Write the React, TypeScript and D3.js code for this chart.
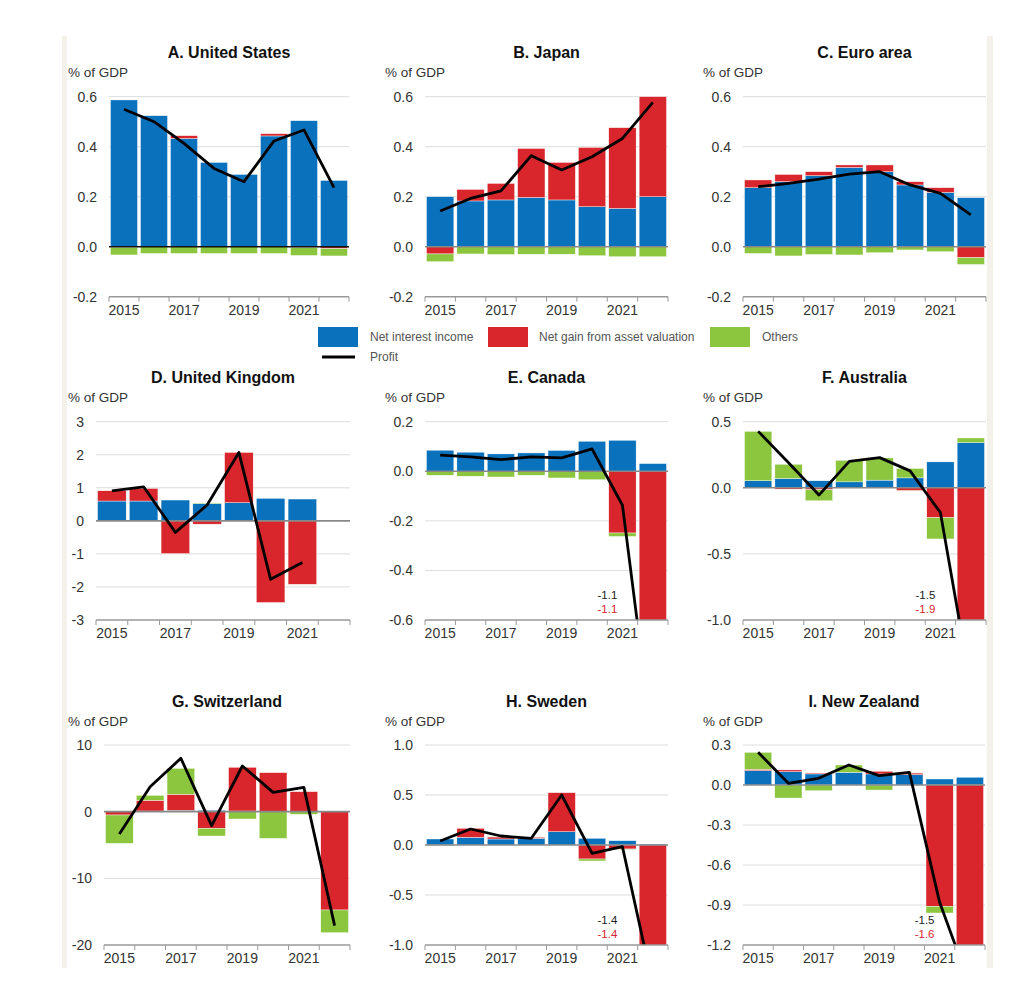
import React from 'react';
import * as d3 from 'd3';

const years = ['2015', '2016', '2017', '2018', '2019', '2020', '2021', '2022'];
const yearLabels = ['2015', '2017', '2019', '2021'];
const seriesNames = ['Net interest income', 'Net gain from asset valuation', 'Others'];
const profitName = 'Profit';
const unitLabel = '% of GDP';

// A. United States
const usNII = [0.587, 0.524, 0.433, 0.337, 0.289, 0.443, 0.504, 0.265];
const usGain = [-0.003, 0, 0.011, 0, 0, 0.009, -0.004, -0.008];
const usOthers = [-0.03, -0.027, -0.027, -0.027, -0.027, -0.027, -0.031, -0.029];
const usProfit = [0.55, 0.5, 0.413, 0.313, 0.26, 0.423, 0.467, 0.236];
const usTicks = [0.6, 0.4, 0.2, 0, -0.2];

// B. Japan
const jpNII = [0.2, 0.183, 0.187, 0.197, 0.187, 0.16, 0.153, 0.2];
const jpGain = [-0.029, 0.046, 0.066, 0.196, 0.15, 0.237, 0.323, 0.4];
const jpOthers = [-0.031, -0.029, -0.031, -0.03, -0.03, -0.036, -0.04, -0.04];
const jpProfit = [0.143, 0.193, 0.223, 0.364, 0.307, 0.36, 0.433, 0.577];
const jpTicks = [0.6, 0.4, 0.2, 0, -0.2];

// C. Euro area
const eaNII = [0.236, 0.26, 0.284, 0.317, 0.3, 0.247, 0.217, 0.196];
const eaGain = [0.031, 0.029, 0.016, 0.01, 0.027, 0.013, 0.019, -0.044];
const eaOthers = [-0.027, -0.037, -0.031, -0.033, -0.024, -0.013, -0.02, -0.027];
const eaProfit = [0.24, 0.253, 0.27, 0.29, 0.3, 0.247, 0.213, 0.127];
const eaTicks = [0.6, 0.4, 0.2, 0, -0.2];

// D. United Kingdom
const ukNII = [0.6, 0.6, 0.63, 0.52, 0.55, 0.68, 0.66, null];
const ukGain = [0.31, 0.38, -0.99, -0.1, 1.52, -2.47, -1.92, null];
const ukOthers = [0, 0, 0, 0.02, 0, 0, 0, null];
const ukProfit = [0.91, 1.03, -0.35, 0.48, 2.07, -1.77, -1.26, null];
const ukTicks = [3, 2, 1, 0, -1, -2, -3];

// E. Canada
const caNII = [0.085, 0.077, 0.07, 0.074, 0.084, 0.121, 0.125, 0.031];
const caGain = [0, 0, 0, 0, 0, 0, -0.249, -1.1];
const caOthers = [-0.016, -0.02, -0.023, -0.016, -0.027, -0.034, -0.014, -0.01];
const caProfit = [0.065, 0.058, 0.047, 0.058, 0.054, 0.09, -0.137, -1.1];
const caTicks = [0.2, 0, -0.2, -0.4, -0.6];

// F. Australia
const auNII = [0.053, 0.07, 0.053, 0.045, 0.058, 0.075, 0.196, 0.342];
const auGain = [0, -0.01, -0.015, 0, 0, -0.02, -0.226, -1.9];
const auOthers = [0.374, 0.108, -0.083, 0.163, 0.168, 0.071, -0.161, 0.035];
const auProfit = [0.427, 0.19, -0.055, 0.2, 0.228, 0.128, -0.188, -1.5];
const auTicks = [0.5, 0, -0.5, -1.0];

// G. Switzerland
const chNII = [0.05, 0.1, 0.2, 0.2, 0.1, 0.05, 0.05, 0.05];
const chGain = [-0.5, 1.6, 2.4, -2.5, 6.55, 5.8, 2.95, -14.75];
const chOthers = [-4.25, 0.75, 3.9, -1.15, -1.1, -4.0, -0.4, -3.4];
const chProfit = [-3.35, 3.75, 8.0, -2.1, 6.85, 2.9, 3.65, -17.1];
const chTicks = [10, 0, -10, -20];

// H. Sweden
const seNII = [0.06, 0.077, 0.06, 0.067, 0.133, 0.067, 0.043, 0.01];
const seGain = [0, 0.09, 0.02, 0.01, 0.39, -0.14, -0.04, -1.4];
const seOthers = [-0.005, 0, 0.005, 0, 0, -0.02, -0.005, 0];
const seProfit = [0.04, 0.16, 0.09, 0.067, 0.5, -0.083, -0.017, -1.4];
const seTicks = [1.0, 0.5, 0, -0.5, -1.0];

// I. New Zealand
const nzNII = [0.108, 0.1, 0.083, 0.095, 0.083, 0.078, 0.045, 0.058];
const nzGain = [0.01, 0.013, 0.007, 0, 0.02, 0.012, -0.91, -1.6];
const nzOthers = [0.127, -0.098, -0.043, 0.055, -0.038, 0.003, -0.05, 0];
const nzProfit = [0.245, 0.013, 0.05, 0.15, 0.07, 0.095, -0.88, -1.5];
const nzTicks = [0.3, 0, -0.3, -0.6, -0.9, -1.2];

const COLORS = ['#0a72bd', '#d8262c', '#8cc63f'];
const FONT = '"Liberation Sans", Arial, Helvetica, sans-serif';

type PanelDef = {
  id: string;
  title: string;
  nii: (number | null)[];
  gain: (number | null)[];
  others: (number | null)[];
  profit: (number | null)[];
  ticks: number[];
  decimals: number;
  x0: number;
  x1: number;
  y0: number;
  y1: number;
  labelX: number;
  zeroColor: string;
  offscale?: boolean;
};

const ROW_Y = [
  { y0: 96.7, y1: 296.7 },
  { y0: 421.7, y1: 620 },
  { y0: 745, y1: 945 },
];

const panels: PanelDef[] = [
  { id: 'A', title: 'A. United States', nii: usNII, gain: usGain, others: usOthers, profit: usProfit, ticks: usTicks, decimals: 1, x0: 109, x1: 349, ...ROW_Y[0], labelX: 68, zeroColor: '#111' },
  { id: 'B', title: 'B. Japan', nii: jpNII, gain: jpGain, others: jpOthers, profit: jpProfit, ticks: jpTicks, decimals: 1, x0: 425, x1: 668, ...ROW_Y[0], labelX: 385, zeroColor: '#888' },
  { id: 'C', title: 'C. Euro area', nii: eaNII, gain: eaGain, others: eaOthers, profit: eaProfit, ticks: eaTicks, decimals: 1, x0: 743, x1: 986, ...ROW_Y[0], labelX: 703, zeroColor: '#888' },
  { id: 'D', title: 'D. United Kingdom', nii: ukNII, gain: ukGain, others: ukOthers, profit: ukProfit, ticks: ukTicks, decimals: 0, x0: 96, x1: 350, ...ROW_Y[1], labelX: 68, zeroColor: '#888' },
  { id: 'E', title: 'E. Canada', nii: caNII, gain: caGain, others: caOthers, profit: caProfit, ticks: caTicks, decimals: 1, x0: 425, x1: 668, ...ROW_Y[1], labelX: 385, zeroColor: '#888', offscale: true },
  { id: 'F', title: 'F. Australia', nii: auNII, gain: auGain, others: auOthers, profit: auProfit, ticks: auTicks, decimals: 1, x0: 743, x1: 986, ...ROW_Y[1], labelX: 703, zeroColor: '#888', offscale: true },
  { id: 'G', title: 'G. Switzerland', nii: chNII, gain: chGain, others: chOthers, profit: chProfit, ticks: chTicks, decimals: 0, x0: 104, x1: 350, ...ROW_Y[2], labelX: 68, zeroColor: '#888' },
  { id: 'H', title: 'H. Sweden', nii: seNII, gain: seGain, others: seOthers, profit: seProfit, ticks: seTicks, decimals: 1, x0: 425, x1: 668, ...ROW_Y[2], labelX: 385, zeroColor: '#888', offscale: true },
  { id: 'I', title: 'I. New Zealand', nii: nzNII, gain: nzGain, others: nzOthers, profit: nzProfit, ticks: nzTicks, decimals: 1, x0: 743, x1: 985, ...ROW_Y[2], labelX: 703, zeroColor: '#888', offscale: true },
];

function fmt(v: number, d: number) {
  return v.toFixed(d).replace('\u2212', '-');
}

function Panel({ p }: { p: PanelDef }) {
  const x = d3.scaleBand<string>().domain(years).range([p.x0, p.x1]).paddingInner(0.1).paddingOuter(0.05);
  const tMin = d3.min(p.ticks) as number;
  const tMax = d3.max(p.ticks) as number;
  const y = d3.scaleLinear().domain([tMin, tMax]).range([p.y1, p.y0]);
  const step = x.step();
  const bw = x.bandwidth();

  const rows = years
    .map((yr, i) => ({ year: yr, nii: p.nii[i], gain: p.gain[i], others: p.others[i] }))
    .filter((r) => r.nii != null) as { year: string; nii: number; gain: number; others: number }[];
  const stack = d3.stack<any>().keys(['nii', 'gain', 'others']).offset(d3.stackOffsetDiverging);
  const series = stack(rows);

  const pts = years.map((yr, i) => [yr, p.profit[i]] as [string, number | null]);
  const line = d3
    .line<[string, number | null]>()
    .defined((d) => d[1] != null)
    .x((d) => (x(d[0]) as number) + bw / 2)
    .y((d) => y(d[1] as number));

  const clipId = `clip-${p.id}`;
  const cx = (p.x0 + p.x1) / 2;
  const bounds = [p.x0, ...years.map((yr) => (x(yr) as number) - (step - bw) / 2 + step)];

  return (
    <g>
      <defs>
        <clipPath id={clipId}>
          <rect x={p.x0} y={p.y0 - 40} width={p.x1 - p.x0} height={p.y1 - p.y0 + 40} />
        </clipPath>
      </defs>
      <text x={cx} y={p.y0 - 44} textAnchor="middle" dominantBaseline="central" fontSize={16} fontWeight="bold" fill="#111">
        {p.title}
      </text>
      <text x={p.labelX} y={p.y0 - 24} dominantBaseline="central" fontSize={13.5} fill="#333">
        {unitLabel}
      </text>
      {p.ticks.map((t) => (
        <g key={t}>
          {t !== tMin && t !== 0 && (
            <line x1={p.x0} x2={p.x1} y1={y(t)} y2={y(t)} stroke="#dcdcdc" strokeWidth={1} />
          )}
          <text x={p.x0 - 12} y={y(t)} textAnchor="end" dominantBaseline="central" fontSize={14} fill="#333">
            {fmt(t, p.decimals)}
          </text>
        </g>
      ))}
      <g clipPath={`url(#${clipId})`}>
        {series.map((s, si) =>
          s.map((d: any) => (
            <rect
              key={`${si}-${d.data.year}`}
              x={x(d.data.year)}
              y={y(Math.max(d[0], d[1]))}
              width={bw}
              height={Math.abs(y(d[0]) - y(d[1]))}
              fill={COLORS[si]}
              stroke="#fff"
              strokeWidth={0.4}
            />
          ))
        )}
      </g>
      <line x1={p.x0} x2={p.x1} y1={y(0)} y2={y(0)} stroke={p.zeroColor} strokeWidth={1.6} />
      <g clipPath={`url(#${clipId})`}>
        <path d={line(pts) || ''} fill="none" stroke="#000" strokeWidth={2.8} strokeLinejoin="round" />
      </g>
      <line x1={p.x0} x2={p.x1} y1={p.y1} y2={p.y1} stroke="#999" strokeWidth={1.5} />
      {bounds.map((bx, i) => (
        <line key={i} x1={bx} x2={bx} y1={p.y1} y2={p.y1 + 5} stroke="#999" strokeWidth={1} />
      ))}
      {yearLabels.map((yr) => (
        <text key={yr} x={(x(yr) as number) + bw / 2} y={p.y1 + 13} textAnchor="middle" dominantBaseline="central" fontSize={14} fill="#333">
          {yr}
        </text>
      ))}
      {p.offscale && (
        <g>
          <text x={(x('2021') as number) + bw / 2 - 15} y={p.y1 - 25} textAnchor="middle" dominantBaseline="central" fontSize={11.5} fill="#222">
            {fmt(p.profit[7] as number, 1)}
          </text>
          <text x={(x('2021') as number) + bw / 2 - 15} y={p.y1 - 11} textAnchor="middle" dominantBaseline="central" fontSize={11.5} fill="#d8262c">
            {fmt(p.gain[7] as number, 1)}
          </text>
        </g>
      )}
    </g>
  );
}

function Legend() {
  const items = [
    { x: 318, tx: 370 },
    { x: 488, tx: 539 },
    { x: 710, tx: 762 },
  ];
  return (
    <g>
      {items.map((it, i) => (
        <g key={i}>
          <rect x={it.x} y={327} width={40} height={20} fill={COLORS[i]} />
          <text x={it.tx} y={337} dominantBaseline="central" fontSize={12} fill="#555">
            {seriesNames[i]}
          </text>
        </g>
      ))}
      <line x1={322} x2={355} y1={357} y2={357} stroke="#000" strokeWidth={3} />
      <text x={370} y={357} dominantBaseline="central" fontSize={12} fill="#555">
        {profitName}
      </text>
    </g>
  );
}

export default function App() {
  return (
    <svg
      width={1024}
      height={1002}
      style={{ position: 'absolute', left: 0, top: 0, background: '#fff', fontFamily: FONT }}
    >
      <rect x={0} y={0} width={1024} height={1002} fill="#fff" />
      <rect x={62} y={36} width={5} height={932} fill="#f4f0ea" />
      <rect x={987} y={36} width={6} height={932} fill="#f4f0ea" />
      {panels.map((p) => (
        <Panel key={p.id} p={p} />
      ))}
      <Legend />
    </svg>
  );
}
